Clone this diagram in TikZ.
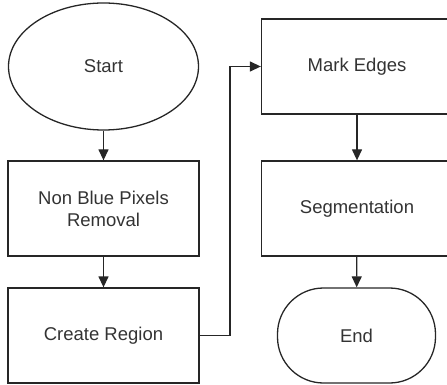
\documentclass[tikz,border=0pt]{standalone}
\usepackage{fontspec}
\setmainfont{Liberation Sans}
\usetikzlibrary{arrows.meta,shapes.geometric}
\definecolor{txt}{HTML}{333333}
\tikzset{
  base/.style={draw=black!85, line width=1.3pt, inner sep=0pt, text=txt,
    font=\fontsize{18.5}{22}\selectfont, align=center},
  procbox/.style={base, rectangle, minimum width=191pt, minimum height=95pt},
  startshape/.style={base, ellipse, minimum width=190pt, minimum height=127pt},
  endshape/.style={base, rectangle, rounded corners=46pt, minimum width=158pt, minimum height=95pt},
  conn/.style={draw=black!85, line width=1.3pt, -{Triangle[length=11pt,width=10pt]}}
}
\begin{document}
\begin{tikzpicture}[x=1pt,y=-1pt]
\useasboundingbox (0,0) rectangle (447,385);
\clip (0,0) rectangle (447,385);
\node[startshape] (start) at (103.5,66.5) {Start};
\node[procbox] (nbp) at (103.5,208.5) {Non Blue Pixels\\Removal};
\node[procbox] (cr) at (103.5,335.5) {Create Region};
\node[procbox] (me) at (357,66.5) {Mark Edges};
\node[procbox] (seg) at (357,208.5) {Segmentation};
\node[endshape] (end) at (356.5,335.5) {End};
\coordinate (bend) at (230,335.5);
\draw[conn] (start) -- (nbp);
\draw[conn] (nbp) -- (cr);
\draw[conn] (cr.east) -- (bend) |- (me.west);
\draw[conn] (me) -- (seg);
\draw[conn] (seg) -- (end);
\end{tikzpicture}
\end{document}
